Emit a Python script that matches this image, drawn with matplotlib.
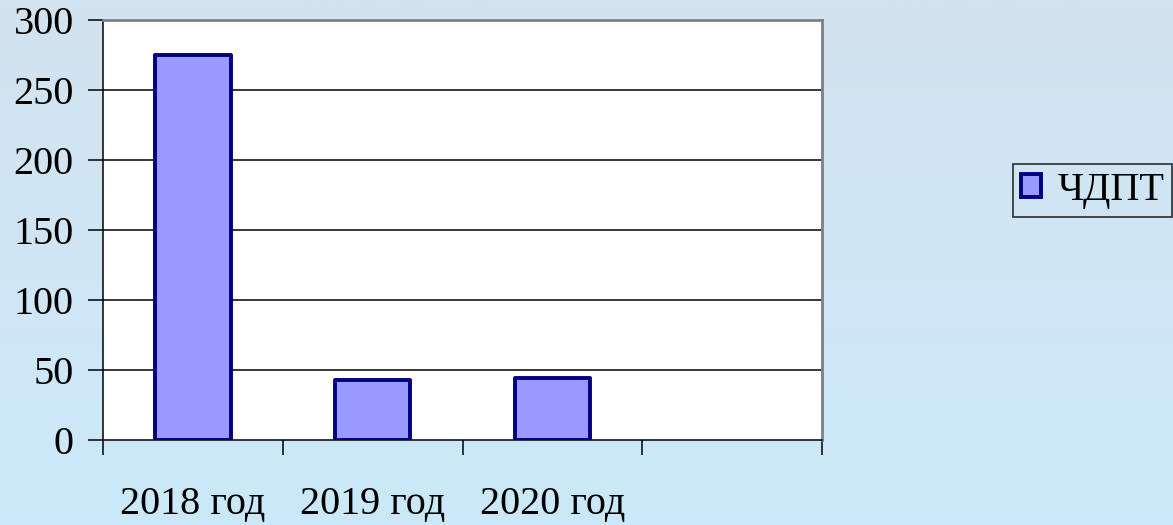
import matplotlib
matplotlib.use("Agg")
import matplotlib.pyplot as plt
import numpy as np
from matplotlib.patches import Patch

categories = ["2018 год", "2019 год", "2020 год", ""]
values = [275, 43, 44, None]
series_name = "ЧДПТ"
yticks = [0, 50, 100, 150, 200, 250, 300]

plt.rcParams['font.family'] = ['Liberation Serif', 'DejaVu Serif']

fig = plt.figure(figsize=(11.73, 5.25), dpi=100)

# gradient background
bg = fig.add_axes([0, 0, 1, 1], zorder=-10)
top = np.array([0xD3, 0xE3, 0xEF]) / 255
bot = np.array([0xCB, 0xE9, 0xFA]) / 255
t = np.linspace(0, 1, 256)[:, None]
grad = top[None, :] * (1 - t) + bot[None, :] * t
bg.imshow(grad[:, None, :].repeat(2, axis=1), aspect='auto', extent=[0, 1, 0, 1])
bg.set_axis_off()

ax = fig.add_axes([103/1173, 85/525, (822-103)/1173, (440-20)/525])
ax.set_facecolor('white')

xs = [i for i, v in enumerate(values) if v is not None]
vs = [v for v in values if v is not None]
ax.bar(xs, vs, width=0.42, color='#9999FF', edgecolor='#000080', linewidth=2.8,
       zorder=3, joinstyle='round')

ax.set_xlim(-0.5, len(categories) - 0.5)
ax.set_ylim(0, 300)
ax.set_yticks(yticks)
ax.set_yticklabels([str(v) for v in yticks], fontsize=29)
for y in yticks[1:-1]:
    ax.axhline(y, color='black', linewidth=1.1, zorder=1)

ax.set_xticks(np.arange(-0.5, len(categories)), minor=False)
ax.set_xticklabels([])
ax.set_xticks(range(len(categories)), minor=True)
ax.set_xticklabels(categories, minor=True, fontsize=29)
ax.tick_params(axis='x', which='minor', length=0, pad=33)
ax.tick_params(axis='x', which='major', length=11, width=1.1, direction='out', color='black')
ax.tick_params(axis='y', length=11, width=1.1, direction='out', pad=10, color='black')

for s in ['left', 'bottom']:
    ax.spines[s].set_color('black')
    ax.spines[s].set_linewidth(1.1)
for s in ['top', 'right']:
    ax.spines[s].set_color('#808080')
    ax.spines[s].set_linewidth(2.0)

handle = Patch(facecolor='#9999FF', edgecolor='#000080', linewidth=2.8, label=series_name)
leg = fig.legend(handles=[handle], loc='upper left', bbox_to_anchor=(1013/1173, 1 - 164/525),
                 fontsize=29, frameon=True, fancybox=False, handlelength=0.5, handleheight=0.5,
                 handletextpad=0.4, borderpad=0.2, borderaxespad=0)
leg.get_frame().set_edgecolor('black')
leg.get_frame().set_linewidth(1.2)
leg.get_frame().set_facecolor('none')

fig.savefig("out.png", dpi=100)
